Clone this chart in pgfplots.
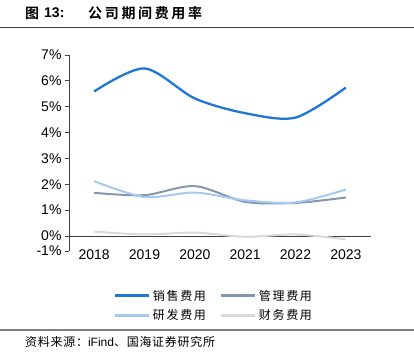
\documentclass[border=0pt]{standalone}
\usepackage{fontspec}
\usepackage{pgfplots}
\pgfplotsset{compat=1.18}
\setmainfont{Liberation Sans}
\newfontfamily\cjk{Noto Sans CJK SC}
\newfontfamily\cjkb{Noto Sans CJK SC Bold}
\newfontfamily\cjkbls[LetterSpace=19]{Noto Sans CJK SC Bold}
\newfontfamily\cjkleg[LetterSpace=14]{Noto Sans CJK SC}
\newfontfamily\cjksrc[LetterSpace=6]{Noto Sans CJK SC}
\definecolor{sales}{RGB}{31,119,211}
\definecolor{mgmt}{RGB}{132,151,176}
\definecolor{rd}{RGB}{166,201,240}
\definecolor{fin}{RGB}{217,217,217}
\definecolor{axc}{RGB}{64,64,64}
\begin{document}
\begin{tikzpicture}
\useasboundingbox (0,0) rectangle (414bp,362bp);
% title
\node[anchor=west,inner sep=0pt] at (25bp,349bp) {\fontsize{14bp}{16bp}\cjkb 图};
\node[anchor=west,inner sep=0pt] at (44bp,349bp) {\fontsize{14bp}{16bp}\bfseries 13:};
\node[anchor=west,inner sep=0pt] at (88bp,349bp) {\fontsize{14bp}{16bp}\cjkbls 公司期间费用率};
\draw[color=axc,line width=0.9bp] (0,335bp) -- (414bp,335bp);
% source
\draw[color=gray,line width=1.2bp] (0,32bp) -- (414bp,32bp);
\node[anchor=west,inner sep=0pt] at (25bp,20bp) {\fontsize{12bp}{14bp}\cjksrc 资料来源：\rmfamily iFind\cjksrc 、国海证券研究所};
\begin{axis}[
  at={(69bp,111bp)}, anchor=south west,
  scale only axis, width=302bp, height=196bp,
  xmin=-0.5, xmax=5.5, ymin=-0.58, ymax=7,
  axis x line*=middle, axis y line*=left,
  axis line style={color=axc, line width=0.9bp},
  xtick={0,1,2,3,4,5},
  xticklabels={2018,2019,2020,2021,2022,2023},
  x tick style={draw=none},
  extra x ticks={0.5,1.5,2.5,3.5,4.5,5.5},
  extra x tick labels={},
  extra x tick style={tick style={draw=axc,line width=0.9bp}, tick align=inside, major tick length=4bp},
  ytick={-0.58,0,1,2,3,4,5,6,7},
  yticklabels={-1\%,0\%,1\%,2\%,3\%,4\%,5\%,6\%,7\%},
  y tick style={draw=axc, line width=0.9bp},
  ytick align=outside, major tick length=4bp,
  /pgf/number format/assume math mode=true,
  ticklabel style={font=\fontsize{14bp}{16bp}\selectfont, color=black},
  xticklabel style={yshift=-10bp},
  legend style={draw=none, fill=none, at={(0.48,-0.279)}, anchor=center,
    legend columns=2, row sep=6bp,
    /tikz/every even column/.append style={column sep=11bp},
    nodes={inner xsep=2.5bp, inner ysep=1bp, font=\fontsize{12bp}{14bp}\cjkleg}},
  legend cell align=left,
  legend image code/.code={\draw[#1,line width=3bp] (0bp,0bp) -- (34bp,0bp);},
]
\addplot[sales, line width=2.3bp, smooth] coordinates {(0,5.59) (1,6.48) (2,5.32) (3,4.75) (4,4.58) (5,5.74)};
\addlegendentry{销售费用}
\addplot[mgmt, line width=2bp, smooth] coordinates {(0,1.67) (1,1.58) (2,1.93) (3,1.32) (4,1.28) (5,1.49)};
\addlegendentry{管理费用}
\addplot[rd, line width=2bp, smooth] coordinates {(0,2.12) (1,1.51) (2,1.68) (3,1.38) (4,1.30) (5,1.80)};
\addlegendentry{研发费用}
\addplot[fin, line width=2bp, smooth] coordinates {(0,0.17) (1,0.06) (2,0.13) (3,-0.03) (4,0.06) (5,-0.13)};
\addlegendentry{财务费用}
\end{axis}
\end{tikzpicture}
\end{document}
